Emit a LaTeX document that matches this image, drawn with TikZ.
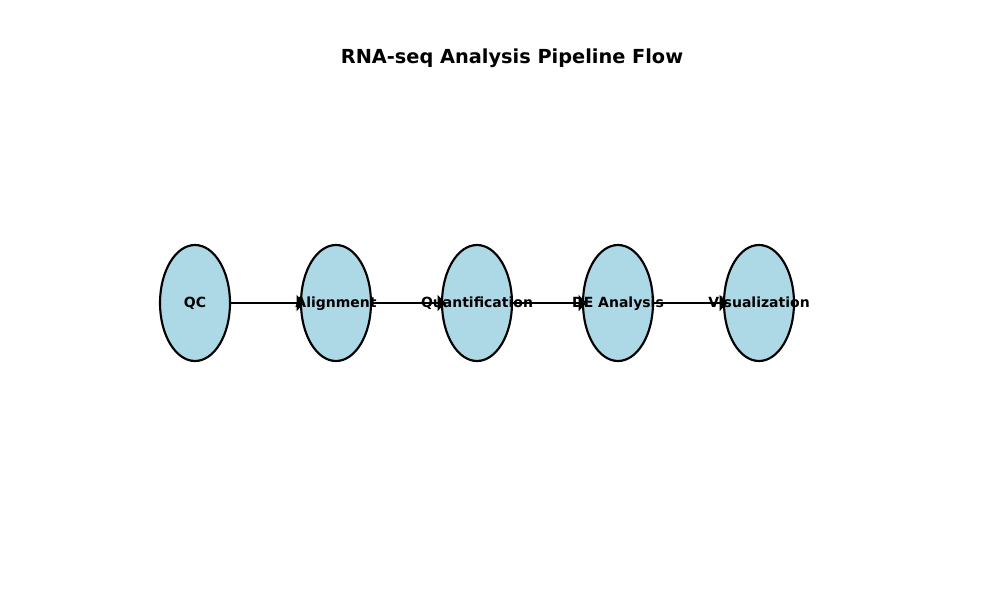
\documentclass[tikz,border=0pt]{standalone}
\usepackage{fontspec}
\setmainfont{DejaVu Sans}
\usetikzlibrary{shapes.geometric,arrows.meta}
\begin{document}
\begin{tikzpicture}[x=0.75pt,y=-0.75pt,
  stage/.style={ellipse,draw=black,line width=1.6pt,fill=lightblue,minimum width=52.5pt,minimum height=87pt,inner sep=0pt},
  lbl/.style={font=\fontsize{10.5}{12}\selectfont\bfseries,inner sep=0pt,anchor=base,yshift=-3.6pt},
  arr/.style={line width=1.1pt,shorten >=-3.5pt,-{Triangle[length=6pt,width=12pt]}},
  ]
\definecolor{lightblue}{RGB}{173,216,230}
\useasboundingbox (0,0) rectangle (1000,600);
\node[font=\fontsize{14.5}{16}\selectfont\bfseries] (title) at (512,58) {RNA-seq Analysis Pipeline Flow};
\node[stage] (qc) at (195,303) {};
\node[stage] (al) at (336,303) {};
\node[stage] (qu) at (477,303) {};
\node[stage] (de) at (618,303) {};
\node[stage] (vi) at (759,303) {};
\draw[arr] (qc.east) -- (al.west);
\draw[arr] (al.east) -- (qu.west);
\draw[arr] (qu.east) -- (de.west);
\draw[arr] (de.east) -- (vi.west);
\node[lbl] (qct) at (qc.center) {QC};
\node[lbl] (alt) at (al.center) {Alignment};
\node[lbl] (qut) at (qu.center) {Quantification};
\node[lbl] (det) at (de.center) {DE Analysis};
\node[lbl] (vit) at (vi.center) {Visualization};
\end{tikzpicture}
\end{document}
